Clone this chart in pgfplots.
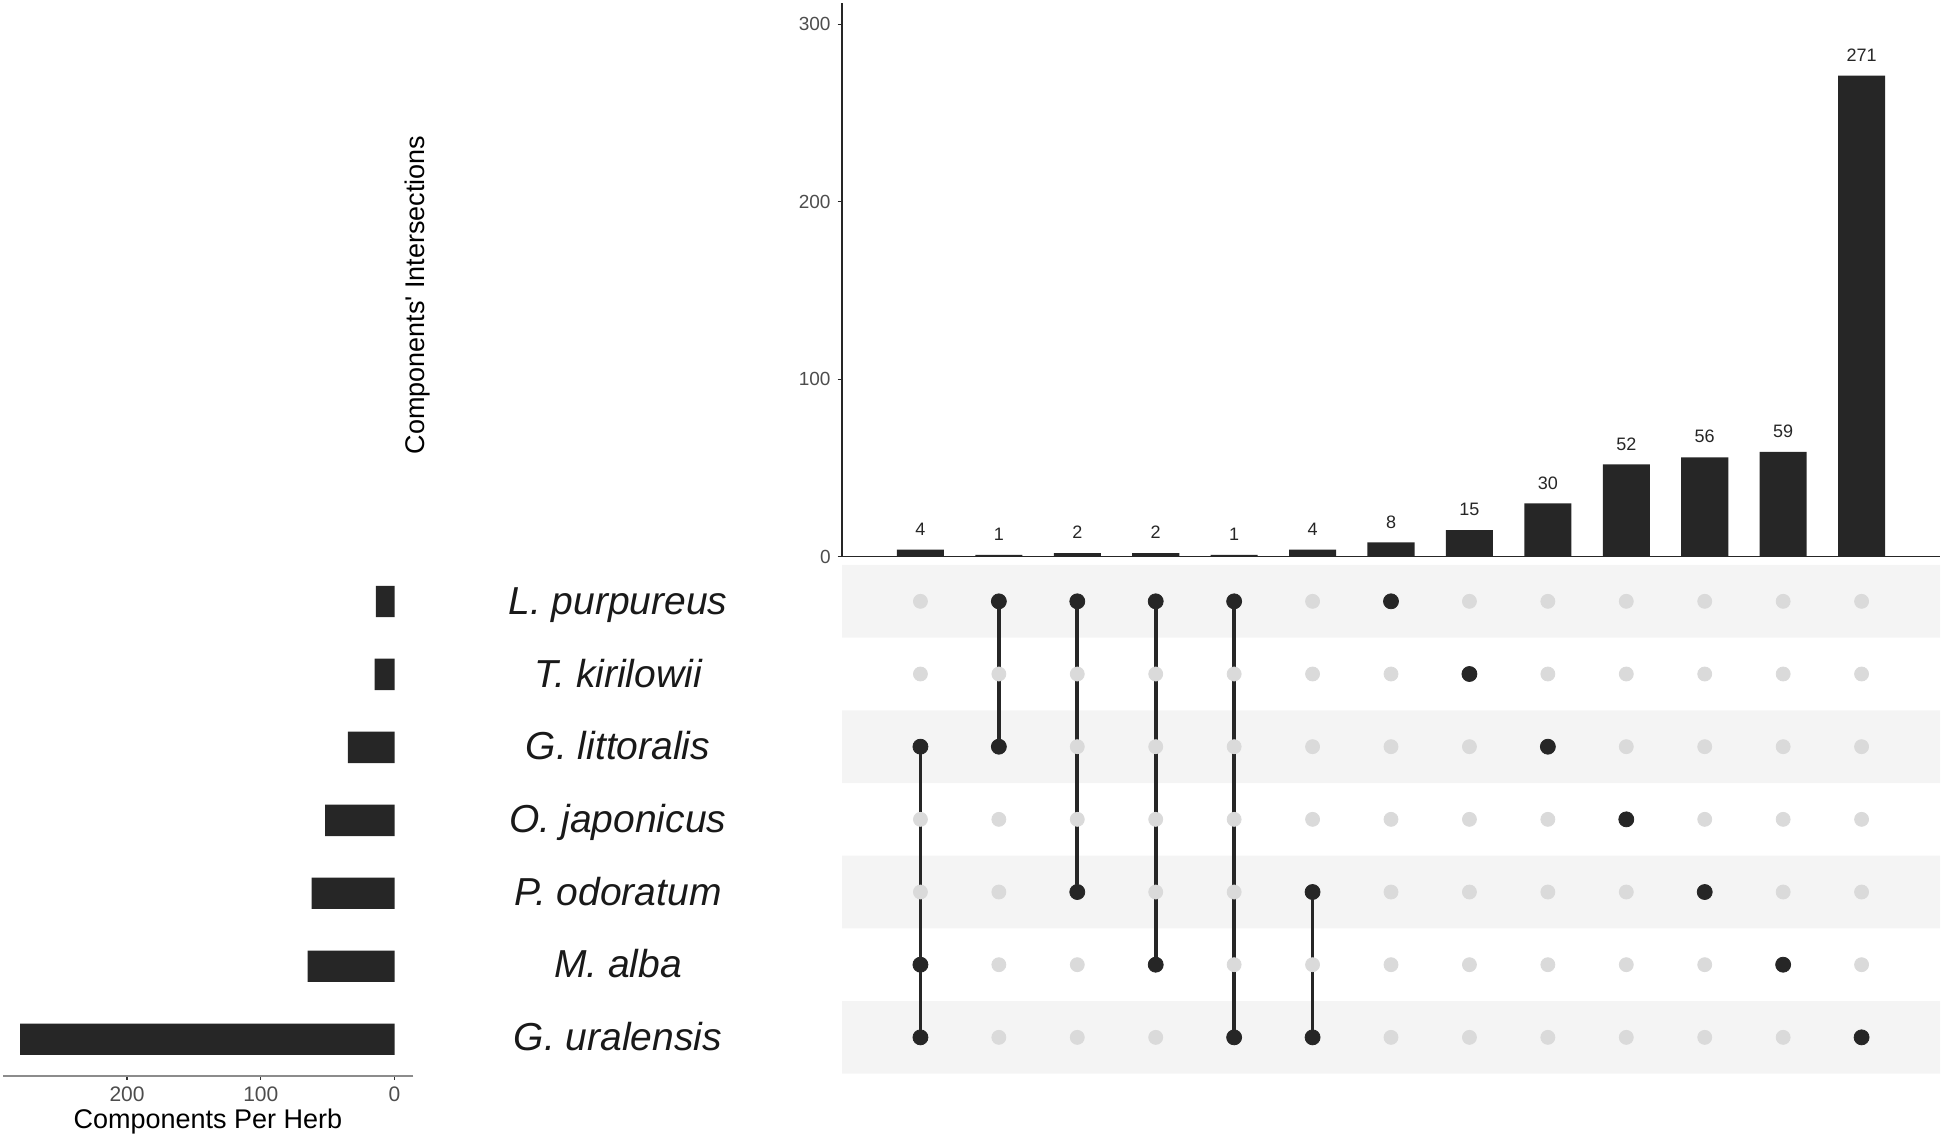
\documentclass[border=0pt]{standalone}
\usepackage{pgfplots}
\pgfplotsset{compat=1.18}
\usepackage{fontspec}
\setmainfont{Liberation Sans}
\definecolor{barc}{HTML}{262626}
\definecolor{dotg}{HTML}{DADADA}
\definecolor{bandc}{HTML}{F4F4F4}
\definecolor{tickc}{HTML}{4D4D4D}
\begin{document}
\begin{tikzpicture}
\useasboundingbox (0,0) rectangle (972bp,568.5bp);

% ---- intersection sizes (top) ----
\begin{axis}[
 at={(421bp,290.15bp)}, anchor=south west,
 width=549bp, height=276.85bp, scale only axis,
 xmin=0, xmax=14, ymin=0, ymax=312,
 axis x line=bottom, axis y line=left,
 axis line style={-, black!85, line width=0.6bp},
 xtick=\empty, ytick={0,100,200,300},
 tick align=outside, major tick length=2.2bp,
 tick style={black!85, line width=0.6bp},
 yticklabel style={font=\fontsize{9.5bp}{11bp}\selectfont, text=tickc},
 /pgf/number format/assume math mode=true,
 clip=false,
]
\addplot[ybar, bar width=0.6, fill=barc, draw=none,
  nodes near coords,
  every node near coord/.append style={font=\fontsize{9bp}{11bp}\selectfont, text=black!85, anchor=base, inner sep=0pt, yshift=7.2bp}]
 coordinates {(1,4)(2,1)(3,2)(4,2)(5,1)(6,4)(7,8)(8,15)(9,30)(10,52)(11,56)(12,59)(13,271)};
\end{axis}

% ---- matrix ----
\begin{axis}[
 at={(421bp,31.65bp)}, anchor=south west,
 width=549bp, height=254.35bp, scale only axis,
 xmin=0, xmax=14, ymin=0.5, ymax=7.5,
 axis line style={draw=none},
 tick style={draw=none},
 xtick=\empty, ytick={1,2,3,4,5,6,7},
 yticklabels={G. uralensis, M. alba, P. odoratum, O. japonicus, G. littoralis, T. kirilowii, L. purpureus},
 yticklabel style={anchor=base, xshift=-112bp, yshift=-6.5bp, font=\fontsize{19.5bp}{21bp}\selectfont\itshape, text=black!90},
 clip=false,
]
% shaded bands
\addplot[fill=bandc, draw=none] coordinates {(0,0.5)(14,0.5)(14,1.5)(0,1.5)(0,0.5)};
\addplot[fill=bandc, draw=none] coordinates {(0,2.5)(14,2.5)(14,3.5)(0,3.5)(0,2.5)};
\addplot[fill=bandc, draw=none] coordinates {(0,4.5)(14,4.5)(14,5.5)(0,5.5)(0,4.5)};
\addplot[fill=bandc, draw=none] coordinates {(0,6.5)(14,6.5)(14,7.5)(0,7.5)(0,6.5)};
% inactive dots
\addplot[only marks, mark=*, mark size=3.5bp, color=dotg] coordinates {
(1,1)(2,1)(3,1)(4,1)(5,1)(6,1)(7,1)(8,1)(9,1)(10,1)(11,1)(12,1)(13,1)
(1,2)(2,2)(3,2)(4,2)(5,2)(6,2)(7,2)(8,2)(9,2)(10,2)(11,2)(12,2)(13,2)
(1,3)(2,3)(3,3)(4,3)(5,3)(6,3)(7,3)(8,3)(9,3)(10,3)(11,3)(12,3)(13,3)
(1,4)(2,4)(3,4)(4,4)(5,4)(6,4)(7,4)(8,4)(9,4)(10,4)(11,4)(12,4)(13,4)
(1,5)(2,5)(3,5)(4,5)(5,5)(6,5)(7,5)(8,5)(9,5)(10,5)(11,5)(12,5)(13,5)
(1,6)(2,6)(3,6)(4,6)(5,6)(6,6)(7,6)(8,6)(9,6)(10,6)(11,6)(12,6)(13,6)
(1,7)(2,7)(3,7)(4,7)(5,7)(6,7)(7,7)(8,7)(9,7)(10,7)(11,7)(12,7)(13,7)
};
% connecting lines
\addplot[barc, line width=1.8bp] coordinates {(1,1)(1,5)};
\addplot[barc, line width=1.8bp] coordinates {(2,5)(2,7)};
\addplot[barc, line width=1.8bp] coordinates {(3,3)(3,7)};
\addplot[barc, line width=1.8bp] coordinates {(4,2)(4,7)};
\addplot[barc, line width=1.8bp] coordinates {(5,1)(5,7)};
\addplot[barc, line width=1.8bp] coordinates {(6,1)(6,3)};
% active dots
\addplot[only marks, mark=*, mark size=3.75bp, color=barc] coordinates {
(1,5)(1,2)(1,1)
(2,7)(2,5)
(3,7)(3,3)
(4,7)(4,2)
(5,7)(5,1)
(6,3)(6,1)
(7,7)(8,6)(9,5)(10,4)(11,3)(12,2)(13,1)
};
\end{axis}

% ---- set sizes (left) ----
\begin{axis}[
 at={(1.35bp,30.65bp)}, anchor=south west,
 width=205.3bp, height=255.35bp, scale only axis,
 xmin=-14, xmax=293, x dir=reverse, ymin=0.5, ymax=7.5,
 axis x line=bottom, axis y line=none,
 axis line style={-, black!45, line width=1bp},
 xtick={0,100,200}, ytick=\empty,
 tick align=outside, major tick length=2bp,
 tick style={black!80, line width=0.6bp},
 xticklabel style={font=\fontsize{10.5bp}{12bp}\selectfont, text=tickc},
 xlabel={Components Per Herb},
 xlabel style={font=\fontsize{13.5bp}{15bp}\selectfont, at={(axis description cs:0.5,0)}, anchor=base, yshift=-26.3bp},
 /pgf/number format/assume math mode=true,
]
\addplot[xbar, bar width=0.43, fill=barc, draw=none]
 coordinates {(14,7)(15,6)(35,5)(52,4)(62,3)(65,2)(280,1)};
\end{axis}

\node[rotate=90, font=\fontsize{13.5bp}{15bp}\selectfont] at (209bp,421bp) {Components\textquotesingle\ Intersections};
\end{tikzpicture}
\end{document}
